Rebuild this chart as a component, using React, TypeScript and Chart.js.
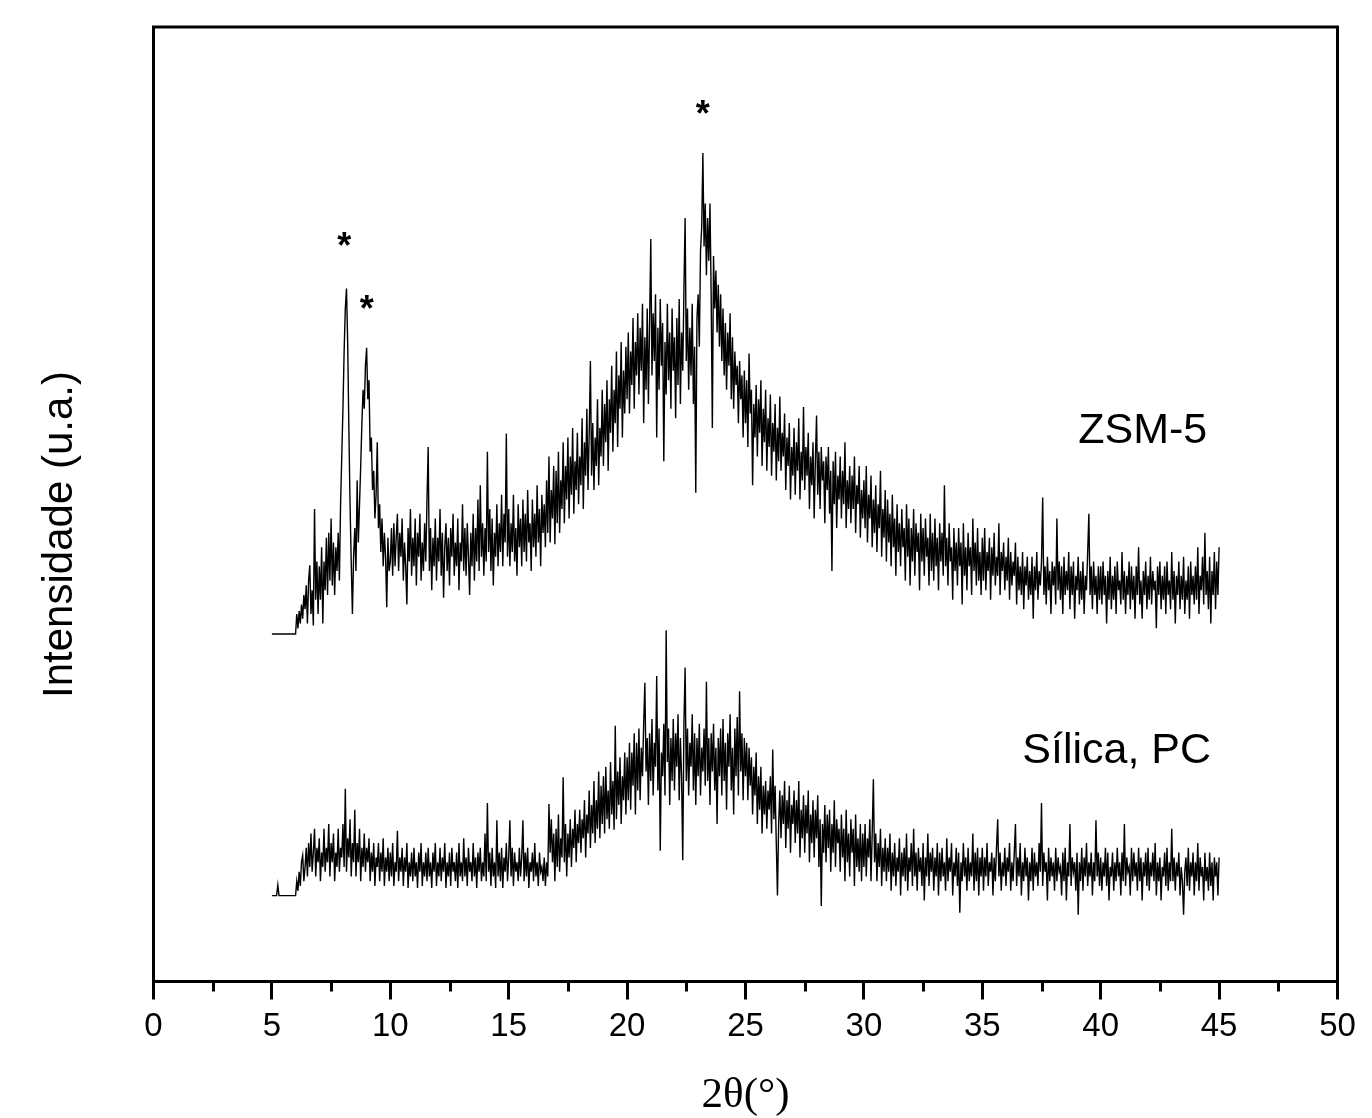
import React, { useEffect, useRef } from 'react';
import { Chart, registerables } from 'chart.js';

Chart.register(...registerables);

const SANS = '"Liberation Sans", Arial, Helvetica, sans-serif';
const SERIF = '"Liberation Serif", "Times New Roman", serif';

// 2θ scan grid (degrees)
const scanStart = 5.0;
const scanStep = 0.05;

// ZSM-5 intensities (a.u., stacked offset), 0.05° steps
const zsm5_05to10 = [
  36.4, 36.4, 36.4, 36.4, 36.4, 36.4, 36.4, 36.4, 36.4, 36.4,
  36.4, 36.4, 36.4, 36.4, 36.4, 36.4, 36.4, 36.4, 36.4, 36.4,
  36.4, 38.5, 37.0, 38.8, 37.5, 39.5, 38.0, 40.5, 39.0, 41.5,
  37.5, 42.0, 43.6, 38.5, 41.0, 37.3, 49.5, 40.0, 44.0, 38.5,
  43.5, 40.0, 45.5, 37.5, 44.0, 41.0, 46.5, 40.5, 47.0, 42.0,
  48.5, 41.5, 46.0, 40.5, 45.5, 43.0, 47.0, 42.0, 50.0, 55.0,
  60.0, 66.0, 70.5, 72.6, 67.0, 58.0, 50.0, 44.0, 38.5, 44.5,
  47.5, 43.0, 52.5, 46.0, 50.0, 54.0, 58.5, 62.0, 60.0, 64.5,
  66.4, 61.0, 63.0, 55.5, 57.0, 51.5, 53.5, 48.5, 51.0, 56.5,
  47.5, 50.0, 45.0, 48.5, 43.5, 47.0, 44.5, 39.2, 46.5, 43.0,
];
const zsm5_10to15 = [
  44.0, 47.5, 42.5, 48.0, 43.5, 46.5, 49.0, 43.0, 47.0, 44.5,
  48.5, 42.0, 46.0, 43.5, 39.5, 47.5, 44.0, 49.5, 42.5, 46.5,
  43.5, 48.5, 41.5, 47.0, 44.5, 49.0, 42.0, 46.0, 43.0, 48.0,
  44.0, 50.5, 56.0, 43.0, 47.5, 41.0, 46.5, 43.5, 48.5, 42.0,
  46.5, 44.0, 49.5, 42.5, 47.0, 40.2, 45.5, 48.0, 43.0, 46.5,
  41.5, 47.5, 44.5, 49.0, 42.5, 46.0, 43.5, 48.5, 41.0, 46.0,
  44.0, 50.0, 43.0, 47.5, 42.5, 48.0, 44.5, 40.5, 47.0, 43.5,
  49.0, 42.0, 47.5, 44.0, 50.5, 43.0, 52.0, 44.5, 48.0, 42.5,
  47.5, 44.0, 55.5, 45.0, 49.5, 43.0, 48.5, 41.5, 47.0, 44.5,
  50.0, 43.5, 48.0, 45.0, 51.0, 43.5, 49.0, 46.0, 57.4, 44.5,
];
const zsm5_15to20 = [
  49.5, 43.5, 48.0, 45.0, 51.0, 44.0, 47.5, 42.5, 50.0, 45.5,
  48.5, 43.5, 50.5, 45.0, 49.0, 44.0, 51.5, 46.0, 48.0, 43.0,
  50.5, 45.5, 49.0, 44.5, 52.0, 46.0, 49.5, 43.5, 51.0, 47.0,
  50.0, 45.5, 52.5, 47.0, 55.0, 46.0, 51.5, 48.5, 54.0, 45.8,
  53.5, 48.0, 55.5, 47.0, 52.5, 49.5, 56.5, 48.0, 54.0, 50.5,
  57.0, 48.5, 55.0, 51.0, 58.0, 49.0, 54.5, 51.5, 57.5, 50.0,
  55.0, 52.0, 59.0, 49.5, 56.5, 53.0, 60.0, 51.5, 57.5, 65.0,
  53.0, 58.5, 51.5, 57.0, 54.0, 61.0, 52.0, 58.0, 55.0, 62.0,
  54.0, 60.5, 56.5, 63.0, 53.5, 61.0, 57.5, 64.5, 55.5, 62.0,
  58.5, 66.0, 56.0, 63.5, 60.0, 67.0, 57.0, 64.0, 59.5, 66.5,
];
const zsm5_20to25 = [
  61.0, 68.0, 59.5, 66.0, 62.5, 69.5, 60.0, 67.0, 63.5, 70.0,
  61.5, 68.5, 64.0, 71.0, 58.5, 67.5, 62.0, 70.5, 60.5, 69.0,
  77.8, 63.5, 70.0, 65.0, 72.0, 57.0, 68.5, 62.0, 71.5, 64.5,
  69.0, 54.5, 67.0, 61.5, 71.0, 63.0, 68.0, 60.0, 70.5, 64.0,
  67.5, 59.0, 69.5, 62.5, 71.5, 60.5, 68.0, 64.0, 72.5, 80.0,
  65.0, 70.5, 62.0, 68.5, 63.5, 71.0, 60.5, 66.5, 51.2, 69.5,
  72.0, 66.5, 76.5, 79.0, 86.8, 77.0, 81.5, 74.0, 80.0, 75.5,
  81.5, 72.0, 58.0, 76.0, 70.5, 74.5, 68.0, 73.0, 66.5, 72.0,
  65.0, 70.5, 63.5, 69.0, 62.0, 68.0, 64.5, 70.0, 61.0, 67.5,
  60.0, 66.0, 62.5, 64.5, 58.5, 65.0, 61.0, 63.5, 57.0, 64.0,
];
const zsm5_25to30 = [
  58.5, 63.0, 56.0, 65.8, 59.5, 62.0, 52.0, 60.5, 57.0, 62.5,
  55.0, 61.0, 57.5, 63.0, 54.0, 60.0, 56.5, 62.0, 53.5, 59.0,
  56.0, 61.5, 53.0, 58.5, 55.5, 60.5, 52.5, 58.0, 54.5, 61.3,
  53.5, 57.5, 55.0, 59.5, 51.5, 57.0, 54.0, 58.5, 50.5, 56.0,
  53.0, 58.0, 51.0, 56.5, 53.5, 59.0, 50.5, 55.5, 52.5, 60.2,
  51.5, 56.0, 53.0, 57.5, 49.5, 55.0, 52.0, 56.5, 48.5, 54.5,
  59.3, 51.0, 55.5, 49.5, 56.0, 52.5, 54.5, 48.0, 55.0, 51.5,
  56.0, 49.0, 53.5, 43.0, 54.5, 50.0, 55.5, 47.5, 53.0, 50.5,
  55.0, 48.5, 53.5, 50.0, 56.5, 47.5, 52.5, 49.5, 54.0, 48.0,
  53.0, 49.5, 55.0, 47.0, 52.0, 50.0, 54.0, 46.5, 51.5, 48.5,
];
const zsm5_30to35 = [
  52.5, 47.5, 54.0, 46.0, 51.0, 48.5, 53.0, 45.5, 50.5, 47.0,
  52.0, 45.0, 50.0, 47.5, 53.5, 44.5, 49.5, 46.5, 51.5, 44.0,
  50.5, 46.0, 49.0, 43.5, 51.0, 45.5, 48.5, 42.5, 50.0, 45.0,
  48.0, 43.5, 49.5, 45.5, 47.5, 42.0, 50.0, 44.5, 48.5, 41.5,
  47.5, 44.0, 49.5, 42.5, 48.0, 45.0, 47.0, 41.0, 49.0, 44.0,
  47.5, 42.5, 48.5, 44.5, 46.5, 41.5, 49.0, 43.0, 47.0, 42.0,
  48.5, 43.5, 46.5, 41.0, 48.0, 44.0, 47.0, 42.5, 52.0, 43.5,
  46.5, 41.5, 48.0, 44.0, 45.5, 40.0, 47.5, 43.0, 46.0, 41.5,
  47.5, 43.5, 46.0, 39.5, 48.0, 42.5, 45.5, 41.0, 47.0, 43.5,
  45.5, 40.5, 48.5, 43.0, 46.0, 41.5, 47.5, 42.0, 45.0, 40.5,
];
const zsm5_35to40 = [
  46.5, 42.0, 47.5, 41.0, 45.0, 43.0, 46.5, 40.0, 45.5, 42.5,
  47.0, 41.5, 44.5, 42.5, 48.0, 40.5, 45.0, 43.0, 46.0, 41.0,
  44.5, 42.0, 46.5, 40.0, 45.0, 41.5, 44.0, 42.5, 46.0, 39.5,
  44.5, 41.0, 43.5, 40.5, 45.0, 39.0, 43.5, 41.5, 44.5, 40.0,
  43.0, 40.5, 44.5, 38.0, 43.5, 41.0, 45.0, 40.0, 43.0, 41.5,
  44.0, 50.7, 40.5, 43.5, 39.5, 44.5, 41.0, 43.0, 38.5, 44.0,
  41.5, 43.5, 39.5, 48.5, 41.0, 44.0, 40.0, 43.5, 38.5, 44.5,
  40.5, 43.0, 41.0, 45.0, 39.0, 43.5, 40.5, 44.0, 38.0, 42.5,
  41.0, 44.5, 39.5, 43.0, 40.0, 44.0, 38.5, 42.5, 41.0, 45.0,
  49.0, 40.5, 43.5, 39.0, 44.0, 40.5, 42.5, 38.5, 43.5, 40.0,
];
const zsm5_40to45 = [
  43.5, 39.5, 44.0, 40.5, 42.5, 37.5, 43.0, 40.0, 44.5, 39.0,
  42.5, 40.0, 43.5, 38.5, 44.0, 41.0, 42.0, 39.5, 45.0, 40.0,
  43.0, 38.5, 42.5, 40.5, 44.0, 39.0, 43.5, 40.0, 42.5, 38.0,
  43.5, 40.5, 45.5, 39.5, 42.0, 38.0, 43.0, 40.5, 44.0, 39.0,
  42.5, 40.0, 44.5, 39.5, 43.0, 41.0, 42.0, 37.0, 43.5, 40.5,
  44.0, 39.0, 42.5, 40.0, 43.5, 38.5, 44.0, 40.5, 42.0, 39.0,
  45.0, 40.0, 43.0, 37.5, 42.5, 40.5, 44.0, 39.0, 42.5, 40.0,
  44.5, 38.5, 42.0, 40.0, 43.5, 38.0, 44.0, 40.5, 42.5, 39.5,
  43.5, 40.0, 45.5, 38.5, 42.5, 41.0, 44.5, 39.5, 47.0, 40.5,
  43.0, 39.0, 44.5, 37.5, 43.0, 40.5, 45.0, 39.0, 44.0, 40.5,
  45.5,
];

// Sílica, PC intensities (a.u.), 0.05° steps
const silica_05to10 = [
  9.0, 9.0, 9.0, 9.0, 9.0, 10.1, 9.0, 9.0, 9.0, 9.0,
  9.0, 9.0, 9.0, 9.0, 9.0, 9.0, 9.0, 9.0, 9.0, 9.0,
  9.0, 10.5, 9.5, 11.5, 10.0, 12.5, 13.2, 10.5, 12.0, 14.0,
  11.0, 14.5, 12.0, 15.5, 11.5, 13.5, 16.0, 11.0, 14.0, 12.5,
  15.0, 10.5, 13.5, 12.0, 16.0, 11.5, 14.0, 12.5, 16.5, 11.0,
  14.5, 12.5, 15.5, 10.5, 13.5, 12.0, 16.0, 11.5, 14.0, 13.0,
  16.5, 12.0, 20.2, 11.5, 15.0, 13.0, 17.0, 11.0, 14.5, 12.5,
  18.0, 11.0, 14.5, 12.5, 16.0, 10.5, 14.0, 12.0, 15.5, 11.5,
  14.0, 12.5, 15.0, 10.5, 13.5, 11.5, 14.5, 10.0, 13.0, 12.0,
  14.5, 10.5, 13.5, 11.5, 15.0, 10.0, 13.0, 11.5, 14.0, 10.5,
];
const silica_10to15 = [
  13.5, 11.0, 14.5, 10.0, 12.5, 11.5, 15.8, 10.5, 13.0, 11.5,
  14.0, 10.0, 13.0, 11.5, 14.5, 9.8, 12.5, 11.0, 13.5, 10.5,
  14.0, 11.0, 12.5, 9.8, 13.5, 11.5, 14.5, 10.0, 12.5, 11.0,
  13.5, 10.5, 14.0, 11.0, 12.5, 9.8, 13.5, 11.5, 14.5, 10.0,
  12.5, 11.0, 14.0, 10.5, 13.0, 11.5, 14.5, 9.8, 12.5, 11.0,
  13.5, 10.0, 14.0, 11.5, 12.5, 10.5, 13.5, 9.8, 14.5, 11.0,
  12.5, 10.5, 15.0, 11.0, 13.0, 10.0, 14.0, 11.5, 12.5, 10.5,
  14.5, 11.0, 13.0, 9.8, 13.5, 11.5, 14.0, 10.5, 12.5, 11.0,
  15.5, 10.5, 18.7, 11.5, 13.5, 10.0, 14.0, 11.0, 12.5, 9.8,
  16.9, 11.0, 13.5, 10.5, 14.0, 9.8, 13.0, 11.5, 14.5, 10.5,
];
const silica_15to20 = [
  13.0, 16.9, 11.0, 14.0, 10.0, 13.5, 11.5, 12.5, 10.5, 14.0,
  11.0, 13.0, 16.9, 10.5, 13.5, 11.0, 14.0, 9.8, 12.5, 11.5,
  13.5, 10.5, 14.5, 11.0, 12.5, 10.0, 13.5, 11.5, 12.0, 10.5,
  13.0, 10.0, 12.5, 11.0, 18.6, 13.5, 17.0, 12.5, 15.5, 10.5,
  16.0, 12.0, 17.5, 11.5, 15.0, 13.0, 21.4, 12.5, 16.5, 11.0,
  15.5, 13.0, 17.0, 12.0, 16.0, 14.0, 18.0, 12.5, 16.5, 14.5,
  18.0, 13.5, 17.0, 15.0, 19.0, 13.0, 17.5, 15.5, 20.0, 14.0,
  18.5, 15.5, 21.0, 14.5, 19.0, 16.0, 22.0, 15.0, 20.5, 16.5,
  21.5, 15.5, 22.5, 17.0, 20.0, 16.0, 23.0, 17.5, 21.0, 15.9,
  26.8, 17.0, 22.0, 18.5, 23.5, 16.5, 21.5, 19.0, 24.0, 17.5,
];
const silica_20to25 = [
  23.5, 19.0, 25.0, 18.0, 24.0, 20.5, 26.0, 17.5, 25.0, 20.0,
  26.5, 19.0, 24.5, 21.5, 27.0, 31.3, 22.0, 25.5, 18.5, 26.0,
  21.0, 27.5, 19.5, 25.0, 22.5, 32.0, 20.0, 26.5, 13.7, 24.0,
  21.5, 27.0, 19.5, 36.8, 23.0, 26.5, 18.5, 25.5, 21.0, 27.5,
  20.0, 26.0, 22.5, 28.0, 19.0, 25.5, 21.5, 12.7, 27.0, 32.9,
  21.0, 26.5, 19.5, 25.0, 22.5, 28.0, 20.0, 26.0, 18.5, 25.5,
  21.5, 27.0, 19.5, 24.5, 22.0, 26.5, 20.5, 31.4, 21.0, 25.5,
  18.5, 26.0, 22.0, 27.0, 20.0, 24.5, 16.5, 25.5, 21.5, 26.5,
  19.5, 27.5, 21.0, 25.0, 18.0, 26.0, 22.5, 28.0, 20.0, 24.5,
  17.5, 26.5, 21.5, 27.7, 19.5, 30.4, 22.0, 26.0, 19.0, 25.5,
];
const silica_25to30 = [
  21.5, 25.0, 19.0, 24.5, 20.5, 23.5, 17.5, 22.5, 19.5, 24.0,
  16.5, 21.5, 18.0, 22.5, 15.5, 20.5, 17.5, 21.0, 16.0, 20.0,
  18.0, 21.5, 15.5, 24.3, 17.0, 20.5, 14.5, 9.0, 16.5, 20.0,
  15.0, 19.5, 16.5, 21.0, 14.0, 19.0, 16.0, 20.5, 13.5, 18.5,
  16.5, 20.0, 14.5, 19.0, 15.5, 21.0, 13.0, 18.0, 15.0, 19.5,
  13.5, 18.5, 15.5, 20.0, 12.5, 17.5, 14.5, 19.0, 13.0, 18.0,
  15.0, 19.5, 12.0, 17.0, 7.9, 16.5, 13.5, 18.5, 12.5, 17.5,
  14.0, 18.0, 11.5, 16.5, 13.5, 19.0, 12.0, 17.0, 14.5, 16.0,
  11.5, 17.5, 13.0, 16.0, 10.5, 18.0, 12.5, 15.5, 11.0, 17.0,
  13.5, 16.0, 10.0, 17.5, 12.0, 15.0, 11.5, 16.5, 10.5, 15.5,
];
const silica_30to35 = [
  12.0, 16.5, 11.0, 15.0, 13.0, 17.0, 10.5, 15.5, 21.2, 12.5,
  15.5, 10.5, 14.5, 12.0, 16.0, 10.0, 14.0, 11.5, 15.0, 10.5,
  14.0, 11.5, 15.5, 9.5, 13.5, 11.0, 14.5, 10.0, 13.0, 11.5,
  15.0, 9.0, 13.5, 11.0, 14.0, 10.5, 15.5, 9.5, 13.0, 11.5,
  14.5, 10.0, 16.0, 11.0, 13.5, 9.5, 14.0, 11.5, 13.0, 10.0,
  14.5, 8.5, 13.0, 11.0, 15.5, 10.0, 13.5, 11.5, 14.0, 9.5,
  13.0, 11.0, 14.5, 9.0, 13.5, 10.5, 14.0, 11.0, 12.5, 9.5,
  15.0, 10.5, 13.0, 11.5, 14.5, 9.0, 12.5, 11.0, 14.0, 10.0,
  13.5, 7.2, 12.5, 10.5, 14.5, 11.0, 13.0, 9.5, 14.0, 10.5,
  12.5, 11.0, 15.5, 9.5, 13.5, 10.5, 14.0, 9.0, 13.0, 11.0,
];
const silica_35to40 = [
  14.0, 9.5, 13.0, 11.0, 14.5, 10.0, 12.5, 11.5, 13.5, 9.0,
  13.0, 10.5, 14.0, 17.0, 11.0, 13.5, 9.5, 12.5, 11.0, 14.0,
  10.0, 13.0, 11.5, 14.5, 9.5, 12.5, 10.5, 13.5, 16.5, 10.0,
  13.0, 11.0, 14.5, 9.0, 12.5, 10.5, 14.0, 11.0, 13.0, 8.5,
  12.5, 10.5, 14.0, 9.5, 13.5, 11.0, 12.5, 10.0, 14.5, 11.5,
  18.7, 10.0, 13.5, 11.5, 12.5, 8.5, 14.0, 10.5, 13.0, 11.0,
  12.5, 9.5, 14.0, 10.5, 13.0, 11.5, 12.0, 9.0, 13.5, 10.5,
  14.0, 8.5, 12.5, 11.0, 16.5, 10.0, 13.0, 11.5, 12.5, 9.5,
  13.5, 7.0, 12.5, 10.5, 14.0, 9.5, 13.0, 11.0, 14.5, 10.0,
  12.5, 11.0, 13.5, 9.0, 12.5, 10.5, 16.9, 11.0, 13.5, 10.0,
];
const silica_40to45 = [
  13.0, 9.5, 12.5, 11.0, 14.0, 10.0, 13.5, 8.5, 12.0, 11.0,
  13.5, 9.5, 12.5, 10.5, 14.0, 11.0, 12.5, 9.0, 13.5, 10.5,
  16.5, 10.0, 13.0, 11.5, 12.0, 9.0, 14.0, 10.5, 13.5, 11.0,
  12.5, 9.5, 14.0, 10.5, 13.0, 8.5, 12.5, 11.0, 13.5, 10.0,
  14.0, 9.5, 12.5, 11.0, 13.5, 10.5, 14.5, 9.0, 12.5, 10.5,
  13.0, 8.5, 12.0, 11.0, 13.5, 10.0, 14.0, 9.5, 12.5, 10.5,
  16.0, 10.5, 13.0, 9.5, 12.5, 11.0, 13.5, 9.0, 12.0, 10.5,
  7.0, 11.5, 13.0, 10.0, 14.0, 9.5, 12.5, 11.0, 13.5, 9.0,
  12.5, 10.5, 14.5, 9.5, 13.0, 11.0, 12.0, 8.5, 13.5, 10.5,
  12.0, 9.5, 13.5, 10.0, 12.5, 8.5, 13.0, 11.0, 12.5, 9.0,
  13.0,
];

const zsm5Intensity = [
  ...zsm5_05to10, ...zsm5_10to15, ...zsm5_15to20, ...zsm5_20to25,
  ...zsm5_25to30, ...zsm5_30to35, ...zsm5_35to40, ...zsm5_40to45,
];
const silicaIntensity = [
  ...silica_05to10, ...silica_10to15, ...silica_15to20, ...silica_20to25,
  ...silica_25to30, ...silica_30to35, ...silica_35to40, ...silica_40to45,
];

// axis
const xMin = 0;
const xMax = 50;
const xMajorStep = 5;
const minorTickValues = [2.5, 7.5, 12.5, 17.5, 22.5, 27.5, 32.5, 37.5, 42.5, 47.5];

// text annotations in data coordinates
const seriesLabels = [
  { text: 'ZSM-5', x: 44.5, y: 56.4 },
  { text: 'Sílica, PC', x: 44.66, y: 22.9 },
];
const peakMarks = [
  { x: 8.06, y: 77.8 },
  { x: 9.01, y: 71.2 },
  { x: 23.2, y: 91.6 },
];

const xTitle = '2θ(°)';
const yTitle = 'Intensidade (u.a.)';

function toPoints(values: number[]) {
  return values.map((y, i) => ({ x: +(scanStart + i * scanStep).toFixed(2), y }));
}

const decorPlugin = {
  id: 'decor',
  afterDraw(chart: any) {
    const { ctx, chartArea } = chart;
    const xs = chart.scales.x;
    const ys = chart.scales.y;
    ctx.save();
    // frame
    ctx.strokeStyle = '#000';
    ctx.lineWidth = 3;
    ctx.strokeRect(chartArea.left, chartArea.top, chartArea.right - chartArea.left, chartArea.bottom - chartArea.top);
    // minor ticks
    for (const v of minorTickValues) {
      const px = Math.round(xs.getPixelForValue(v)) + 0.5;
      ctx.beginPath();
      ctx.moveTo(px, chartArea.bottom);
      ctx.lineTo(px, chartArea.bottom + 10);
      ctx.stroke();
    }
    // series labels
    ctx.fillStyle = '#000';
    ctx.font = `43px ${SANS}`;
    ctx.textAlign = 'right';
    ctx.textBaseline = 'alphabetic';
    for (const l of seriesLabels) {
      ctx.fillText(l.text, xs.getPixelForValue(l.x), ys.getPixelForValue(l.y));
    }
    // peak asterisks (centred on ink)
    ctx.font = `bold 36px ${SANS}`;
    ctx.textAlign = 'center';
    const m = ctx.measureText('*');
    const dy = (m.actualBoundingBoxAscent - m.actualBoundingBoxDescent) / 2;
    for (const p of peakMarks) {
      ctx.fillText('*', xs.getPixelForValue(p.x), ys.getPixelForValue(p.y) + dy);
    }
    // y-axis title
    ctx.font = `42px ${SANS}`;
    ctx.textAlign = 'center';
    ctx.textBaseline = 'alphabetic';
    ctx.translate(72, 534.5);
    ctx.rotate(-Math.PI / 2);
    ctx.fillText(yTitle, 0, 0);
    ctx.restore();
  },
};

export default function App() {
  const ref = useRef<HTMLCanvasElement | null>(null);

  useEffect(() => {
    document.body.style.margin = '0';
    const canvas = ref.current;
    if (!canvas) return;
    const chart = new Chart(canvas, {
      type: 'scatter',
      data: {
        datasets: [
          {
            label: 'ZSM-5',
            data: toPoints(zsm5Intensity),
            showLine: true,
            borderColor: '#000',
            borderWidth: 1.4,
            pointRadius: 0,
            tension: 0,
          },
          {
            label: 'Sílica, PC',
            data: toPoints(silicaIntensity),
            showLine: true,
            borderColor: '#000',
            borderWidth: 1.4,
            pointRadius: 0,
            tension: 0,
          },
        ],
      },
      options: {
        responsive: false,
        animation: false,
        devicePixelRatio: 1,
        layout: { padding: { top: 27, right: 34.5, left: 0, bottom: 0 } },
        plugins: {
          legend: { display: false },
          tooltip: { enabled: false },
        },
        scales: {
          x: {
            type: 'linear',
            position: 'bottom',
            min: xMin,
            max: xMax,
            ticks: {
              stepSize: xMajorStep,
              color: '#000',
              font: { family: SANS, size: 33 },
              padding: 8,
              maxRotation: 0,
              autoSkip: false,
            },
            grid: {
              display: true,
              drawOnChartArea: false,
              drawTicks: true,
              tickLength: 18,
              tickWidth: 3,
              tickColor: '#000',
            },
            border: { display: true, color: '#000', width: 3 },
            title: {
              display: true,
              text: xTitle,
              color: '#000',
              font: { family: SERIF, size: 43, lineHeight: 1 },
              padding: { top: 0, bottom: 1 },
            },
            afterFit: (s: any) => {
              s.height = 136.5;
            },
          },
          y: {
            type: 'linear',
            min: 0,
            max: 100,
            ticks: { display: false },
            grid: { display: false, drawTicks: false },
            border: { display: true, color: '#000', width: 3 },
            afterFit: (s: any) => {
              s.width = 153.5;
            },
          },
        },
      } as any,
      plugins: [decorPlugin],
    });
    return () => chart.destroy();
  }, []);

  return (
    <div style={{ position: 'absolute', left: 0, top: 0, width: 1372, height: 1118, background: '#fff' }}>
      <canvas ref={ref} width={1372} height={1118} />
    </div>
  );
}
